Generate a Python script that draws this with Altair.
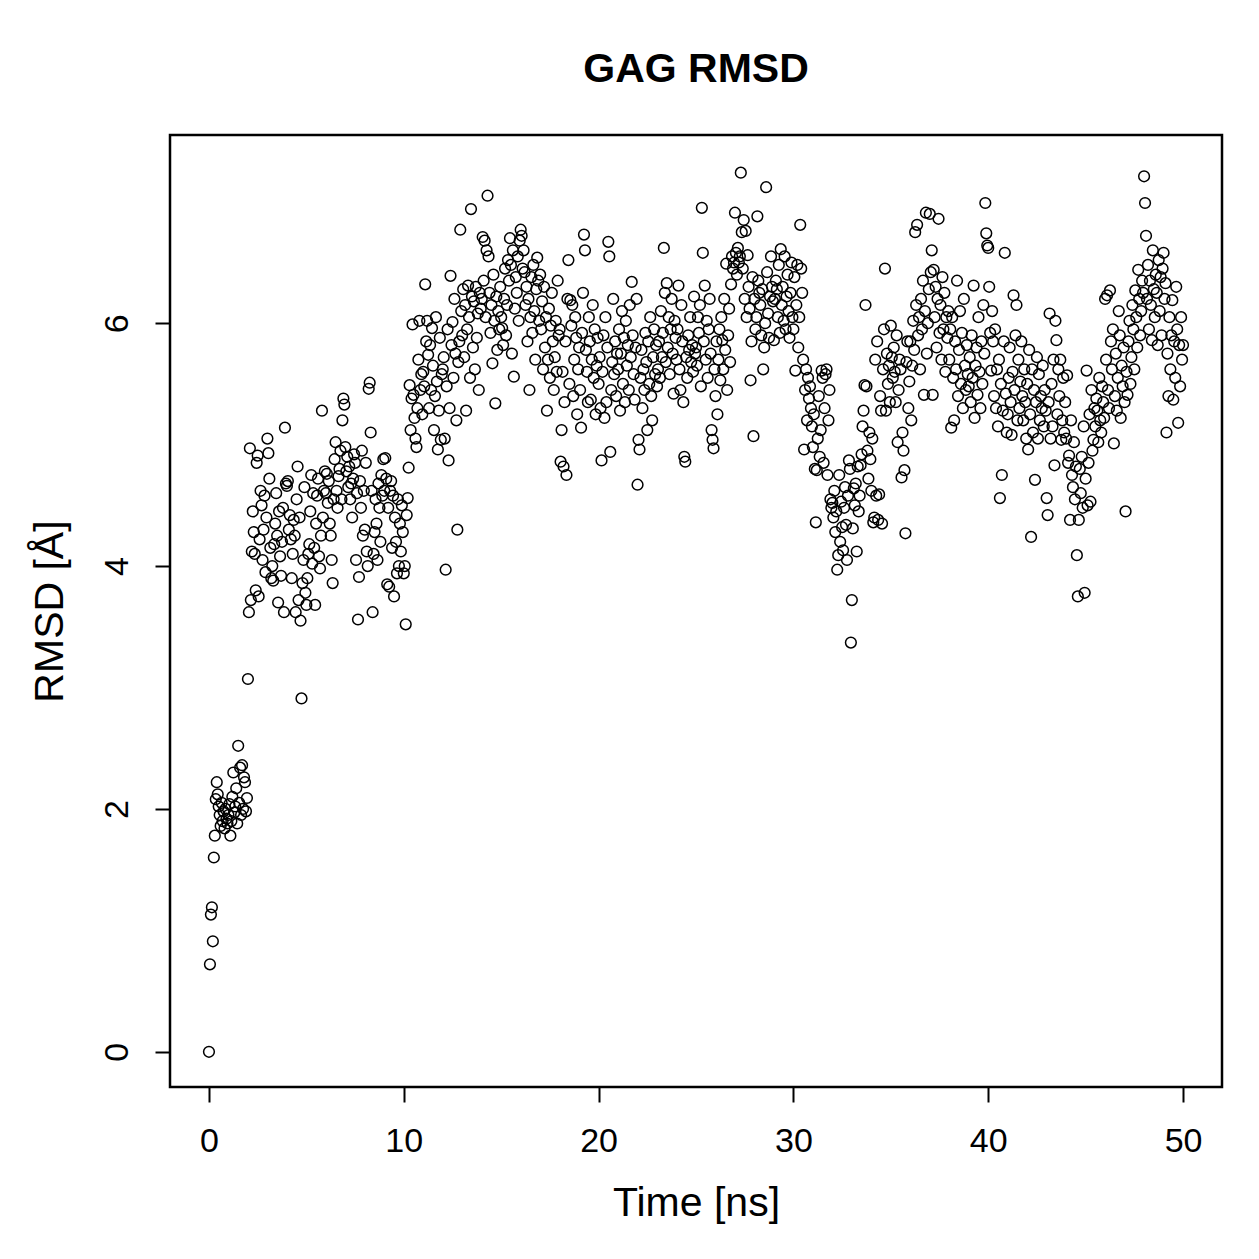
import altair as alt
import pandas as pd

# RMSD of the GAG chain, sampled every 0.05 ns (20 frames per ns)
time_step_ns = 0.05

rmsd_00_10 = [
    0.00, 0.72, 1.13, 1.19, 0.91, 1.60, 1.78, 2.08, 2.22, 2.12, 2.02, 1.95, 1.86, 2.05, 1.90, 1.98, 1.84, 2.00, 1.92, 1.88,
    1.95, 2.04, 1.78, 1.90, 2.10, 2.30, 1.97, 2.02, 2.17, 1.88, 2.52, 2.05, 2.34, 1.95, 2.36, 2.00, 2.26, 2.22, 1.98, 2.09,
    3.07, 3.62, 4.97, 3.72, 4.12, 4.45, 4.28, 4.10, 3.80, 4.85, 4.91, 3.75, 4.22, 4.62, 4.50, 4.05, 4.30, 4.58, 3.95, 4.40,
    5.05, 4.93, 4.72, 4.15, 3.90, 4.00, 3.88, 4.18, 4.35, 4.60, 4.25, 3.70, 4.45, 4.08, 3.92, 4.20, 4.48, 3.62, 5.14, 4.68,
    4.66, 4.70, 4.30, 4.42, 4.22, 3.90, 4.10, 4.38, 4.25, 3.62, 4.55, 4.82, 3.72, 4.40, 3.55, 2.91, 3.86, 4.05, 4.65, 3.78,
    3.68, 3.90, 4.10, 4.18, 4.45, 4.75, 4.02, 4.60, 4.15, 3.68, 4.35, 4.58, 4.72, 4.08, 3.98, 4.25, 5.28, 4.40, 4.62, 4.78,
    4.60, 4.76, 4.52, 4.70, 4.35, 4.25, 4.05, 3.86, 4.55, 4.88, 5.02, 4.62, 4.48, 4.74, 4.80, 4.95, 4.55, 5.20, 5.38, 5.33,
    4.98, 4.78, 4.90, 4.65, 4.82, 4.55, 4.68, 4.40, 4.72, 4.92, 4.85, 4.05, 4.60, 3.56, 3.91, 4.70, 4.48, 4.95, 4.25, 4.62,
    4.30, 4.85, 4.12, 4.00, 5.46, 5.51, 5.10, 4.62, 3.62, 4.10, 4.28, 4.55, 4.35, 4.05, 4.68, 4.48, 4.20, 4.75, 4.58, 4.88,
    4.62, 4.89, 4.72, 3.85, 4.48, 3.83, 4.62, 4.70, 4.15, 4.58, 3.75, 4.40, 4.20, 3.94, 4.55, 4.00, 4.35, 4.12, 4.50, 4.28,
]

rmsd_10_20 = [
    3.94, 4.00, 3.52, 4.42, 4.56, 4.81, 5.49, 5.12, 5.38, 5.99, 5.41, 5.22, 5.05, 4.98, 5.30, 5.70, 6.02, 5.45, 5.58, 5.25,
    5.60, 5.48, 6.32, 5.85, 6.02, 5.74, 5.30, 5.82, 5.45, 5.96, 5.65, 5.12, 5.40, 6.05, 5.52, 4.96, 5.28, 5.88, 5.04, 5.58,
    5.62, 5.72, 5.05, 3.97, 5.48, 5.95, 4.87, 5.30, 6.39, 5.82, 6.01, 5.55, 6.20, 5.75, 5.20, 4.30, 5.68, 5.85, 6.77, 6.10,
    5.90, 6.28, 5.72, 6.15, 5.28, 5.95, 6.31, 6.05, 5.55, 6.94, 6.22, 5.80, 6.18, 5.62, 6.30, 5.88, 6.08, 5.45, 6.25, 6.12,
    6.20, 6.71, 6.35, 6.68, 6.05, 6.60, 7.05, 6.55, 6.25, 5.92, 6.15, 5.67, 6.40, 6.02, 5.34, 6.22, 5.78, 6.10, 5.95, 6.30,
    6.05, 5.96, 5.82, 6.20, 6.45, 5.90, 6.15, 6.52, 6.35, 6.70, 6.48, 5.75, 6.60, 5.56, 6.12, 6.38, 6.25, 6.55, 6.02, 6.68,
    6.77, 6.72, 6.45, 6.60, 6.42, 6.15, 6.30, 5.85, 6.20, 5.45, 6.05, 6.38, 5.92, 6.48, 6.10, 5.70, 6.28, 6.54, 6.35, 6.02,
    6.40, 5.95, 6.18, 5.62, 6.30, 5.80, 6.05, 5.28, 5.70, 6.12, 5.55, 5.98, 6.25, 5.85, 5.45, 5.72, 6.02, 5.60, 6.35, 5.90,
    5.95, 4.86, 5.12, 5.60, 4.82, 5.35, 5.85, 4.75, 6.20, 6.52, 5.50, 6.19, 5.98, 6.15, 5.40, 5.70, 6.05, 5.88, 5.25, 5.62,
    5.80, 5.45, 5.14, 5.92, 6.25, 6.73, 6.60, 5.78, 5.60, 5.35, 6.05, 5.85, 5.37, 5.70, 6.15, 5.55, 5.95, 5.25, 5.65, 5.88,
]

rmsd_20_30 = [
    5.50, 5.72, 5.30, 4.87, 5.60, 5.90, 5.22, 6.05, 5.35, 5.80, 6.67, 6.55, 4.94, 5.45, 5.68, 6.20, 5.58, 5.85, 5.40, 5.75,
    5.62, 5.95, 5.28, 5.75, 6.10, 5.50, 5.88, 5.35, 6.02, 5.65, 5.82, 5.45, 6.15, 5.72, 6.34, 5.90, 5.58, 5.37, 5.80, 6.20,
    4.67, 5.04, 4.96, 5.55, 5.78, 5.30, 5.62, 5.45, 5.92, 5.68, 5.12, 5.85, 5.50, 6.05, 5.40, 5.20, 5.72, 5.95, 5.58, 5.82,
    5.48, 5.62, 5.85, 5.55, 6.10, 5.72, 5.92, 6.62, 6.25, 5.68, 6.33, 5.80, 6.05, 5.58, 5.95, 6.20, 5.75, 5.42, 6.02, 5.88,
    5.70, 5.95, 6.31, 5.62, 5.45, 6.15, 5.85, 5.35, 4.90, 4.86, 5.72, 5.55, 5.90, 5.78, 6.05, 5.68, 5.82, 5.60, 6.22, 5.75,
    5.80, 5.65, 6.05, 5.92, 6.15, 5.48, 6.95, 6.58, 5.85, 6.31, 5.70, 6.02, 5.55, 5.95, 6.20, 5.75, 5.12, 5.04, 4.97, 5.62,
    5.40, 5.85, 5.25, 5.70, 5.95, 5.53, 6.05, 5.86, 5.62, 6.20, 5.78, 6.49, 5.45, 5.90, 6.12, 5.68, 6.32, 6.55, 6.45, 6.50,
    6.91, 6.58, 6.40, 6.62, 6.50, 6.55, 7.24, 6.75, 6.45, 6.85, 6.20, 6.76, 6.05, 6.56, 6.30, 6.12, 5.53, 5.85, 6.38, 5.07,
    6.20, 5.95, 6.05, 6.88, 6.35, 6.25, 6.15, 5.90, 6.28, 5.62, 5.80, 6.00, 7.12, 6.42, 6.08, 5.88, 6.22, 6.55, 6.30, 6.18,
    5.86, 6.20, 6.35, 6.28, 6.05, 6.48, 5.92, 6.61, 6.15, 6.30, 6.02, 6.55, 5.95, 6.22, 6.40, 6.10, 5.88, 6.25, 6.50, 6.05,
]

rmsd_30_40 = [
    5.95, 6.38, 5.61, 6.15, 6.48, 5.80, 6.05, 6.81, 6.45, 6.25, 5.70, 4.96, 5.45, 5.62, 5.20, 5.55, 5.38, 5.48, 5.30, 5.15,
    4.98, 5.25, 4.80, 4.36, 4.79, 5.05, 5.40, 4.90, 5.12, 5.61, 5.55, 4.85, 5.30, 5.58, 5.62, 4.75, 5.20, 5.45, 4.55, 4.48,
    4.52, 4.40, 4.62, 4.28, 4.45, 3.97, 4.09, 4.75, 4.20, 4.53, 4.32, 4.13, 4.48, 4.65, 4.34, 4.05, 4.58, 4.87, 4.80, 3.37,
    3.72, 4.31, 4.64, 4.50, 4.68, 4.12, 4.82, 4.45, 4.58, 4.83, 4.92, 5.15, 5.28, 5.49, 6.15, 5.48, 4.95, 4.72, 5.10, 4.88,
    4.62, 5.05, 4.36, 4.40, 5.70, 4.58, 5.85, 4.38, 4.59, 5.40, 5.28, 4.35, 5.62, 5.95, 6.45, 5.28, 5.75, 5.50, 5.65, 5.35,
    5.98, 5.72, 5.55, 5.80, 5.60, 5.35, 5.90, 5.02, 5.45, 5.70, 5.62, 4.73, 5.10, 4.95, 4.79, 4.27, 5.68, 5.85, 5.30, 5.52,
    5.85, 5.20, 5.65, 6.02, 5.78, 6.75, 6.15, 6.81, 5.90, 6.05, 5.62, 6.20, 5.95, 6.35, 5.41, 6.10, 6.91, 5.75, 6.00, 6.28,
    6.90, 6.42, 6.60, 5.41, 6.44, 6.05, 6.30, 5.80, 6.20, 6.86, 5.92, 6.15, 5.70, 6.38, 5.95, 6.25, 5.60, 6.05, 5.88, 6.10,
    5.70, 5.95, 5.14, 6.05, 5.55, 5.20, 5.85, 5.62, 6.35, 5.40, 5.78, 6.10, 5.50, 5.92, 5.30, 6.20, 5.65, 5.45, 5.82, 5.58,
    5.48, 5.72, 5.35, 5.90, 5.55, 6.31, 5.22, 5.65, 5.80, 5.41, 6.05, 5.60, 5.30, 5.85, 5.50, 6.15, 5.75, 6.99, 6.74, 6.64,
]

rmsd_40_50 = [
    6.62, 6.30, 5.92, 5.61, 6.10, 5.85, 5.40, 5.95, 5.30, 5.62, 5.15, 5.70, 4.56, 5.50, 4.75, 5.28, 5.85, 6.58, 5.42, 5.10,
    5.25, 5.55, 5.80, 5.35, 5.08, 5.60, 6.23, 5.45, 5.90, 6.15, 5.20, 5.70, 5.30, 5.52, 5.85, 5.40, 5.20, 5.62, 5.35, 5.05,
    5.50, 4.96, 5.78, 5.25, 4.24, 5.62, 5.10, 5.45, 4.71, 5.35, 5.72, 5.05, 5.58, 5.20, 5.40, 5.30, 5.65, 5.15, 5.45, 5.28,
    4.56, 4.42, 5.35, 6.08, 5.05, 5.50, 5.15, 5.70, 4.83, 6.02, 5.86, 5.25, 5.62, 5.40, 5.70, 5.04, 5.20, 5.55, 5.10, 5.35,
    5.05, 5.57, 4.85, 4.91, 4.38, 5.20, 4.75, 4.65, 5.02, 4.55, 4.82, 4.09, 3.75, 4.38, 4.80, 4.60, 4.90, 4.48, 5.15, 3.78,
    4.72, 5.61, 4.50, 4.85, 5.25, 4.53, 5.45, 4.95, 5.04, 5.30, 5.15, 5.38, 5.28, 5.02, 5.55, 5.20, 5.10, 5.48, 5.35, 5.22,
    6.20, 5.70, 6.23, 5.45, 5.30, 6.27, 5.85, 5.62, 5.95, 5.01, 5.40, 5.75, 5.28, 5.55, 6.10, 5.90, 5.22, 5.65, 5.48, 5.80,
    5.35, 4.45, 5.60, 5.41, 5.85, 6.02, 5.50, 5.72, 6.15, 5.95, 5.62, 6.27, 6.05, 5.80, 6.44, 6.20, 5.90, 6.10, 6.35, 6.25,
    7.21, 6.99, 6.72, 6.20, 6.48, 5.95, 6.35, 6.15, 5.86, 6.60, 6.28, 6.05, 6.40, 6.25, 5.82, 6.52, 6.10, 6.38, 5.90, 6.45,
    6.58, 6.20, 6.33, 5.10, 5.75, 5.40, 6.05, 5.62, 5.90, 6.19, 5.37, 5.85, 5.55, 6.30, 5.95, 5.18, 5.82, 5.48, 6.05, 5.70,
    5.82,
]

x_ticks = [0, 10, 20, 30, 40, 50]
y_ticks = [0, 2, 4, 6]

rmsd = rmsd_00_10 + rmsd_10_20 + rmsd_20_30 + rmsd_30_40 + rmsd_40_50
df = pd.DataFrame({
    "time": [round(i * time_step_ns, 2) for i in range(len(rmsd))],
    "rmsd": rmsd,
})

FONT = "Liberation Sans"

points = alt.Chart(df).mark_point(
    shape="circle", filled=False, color="black", size=115, strokeWidth=1.5, opacity=1
).encode(
    x=alt.X(
        "time:Q",
        scale=alt.Scale(domain=[-2, 52], nice=False, zero=False),
        axis=alt.Axis(
            values=x_ticks, title="Time [ns]", grid=False, domain=False,
            tickSize=15, tickWidth=2, tickColor="black",
            labelFontSize=34, labelFont=FONT, labelColor="black",
            labelPadding=22, labelBaseline="top",
            titleFontSize=41, titleFont=FONT, titleFontWeight="normal",
            titleColor="black", titleY=116, titleBaseline="middle",
        ),
    ),
    y=alt.Y(
        "rmsd:Q",
        scale=alt.Scale(domain=[-0.29, 7.55], nice=False, zero=False),
        axis=alt.Axis(
            values=y_ticks, title="RMSD [Å]", grid=False, domain=False,
            tickSize=15, tickWidth=2, tickColor="black",
            labelFontSize=34, labelFont=FONT, labelColor="black",
            labelAngle=-90, labelAlign="center", labelBaseline="middle",
            labelPadding=38,
            titleFontSize=41, titleFont=FONT, titleFontWeight="normal",
            titleColor="black", titleAngle=-90, titleX=-120,
            titleBaseline="middle", titleAlign="center",
        ),
    ),
)

chart = points.properties(
    width=1052,
    height=952,
    background="white",
    title=alt.TitleParams(
        "GAG RMSD", font=FONT, fontSize=41, fontWeight="bold",
        color="black", anchor="middle", baseline="middle", offset=24,
    ),
    autosize=alt.AutoSizeParams(type="none"),
    padding={"left": 170, "top": 135, "right": 37, "bottom": 172},
).configure_view(
    stroke="black", strokeWidth=2.5, fill="white"
)

chart.save("out.html", embed_options={"renderer": "svg", "actions": False})
